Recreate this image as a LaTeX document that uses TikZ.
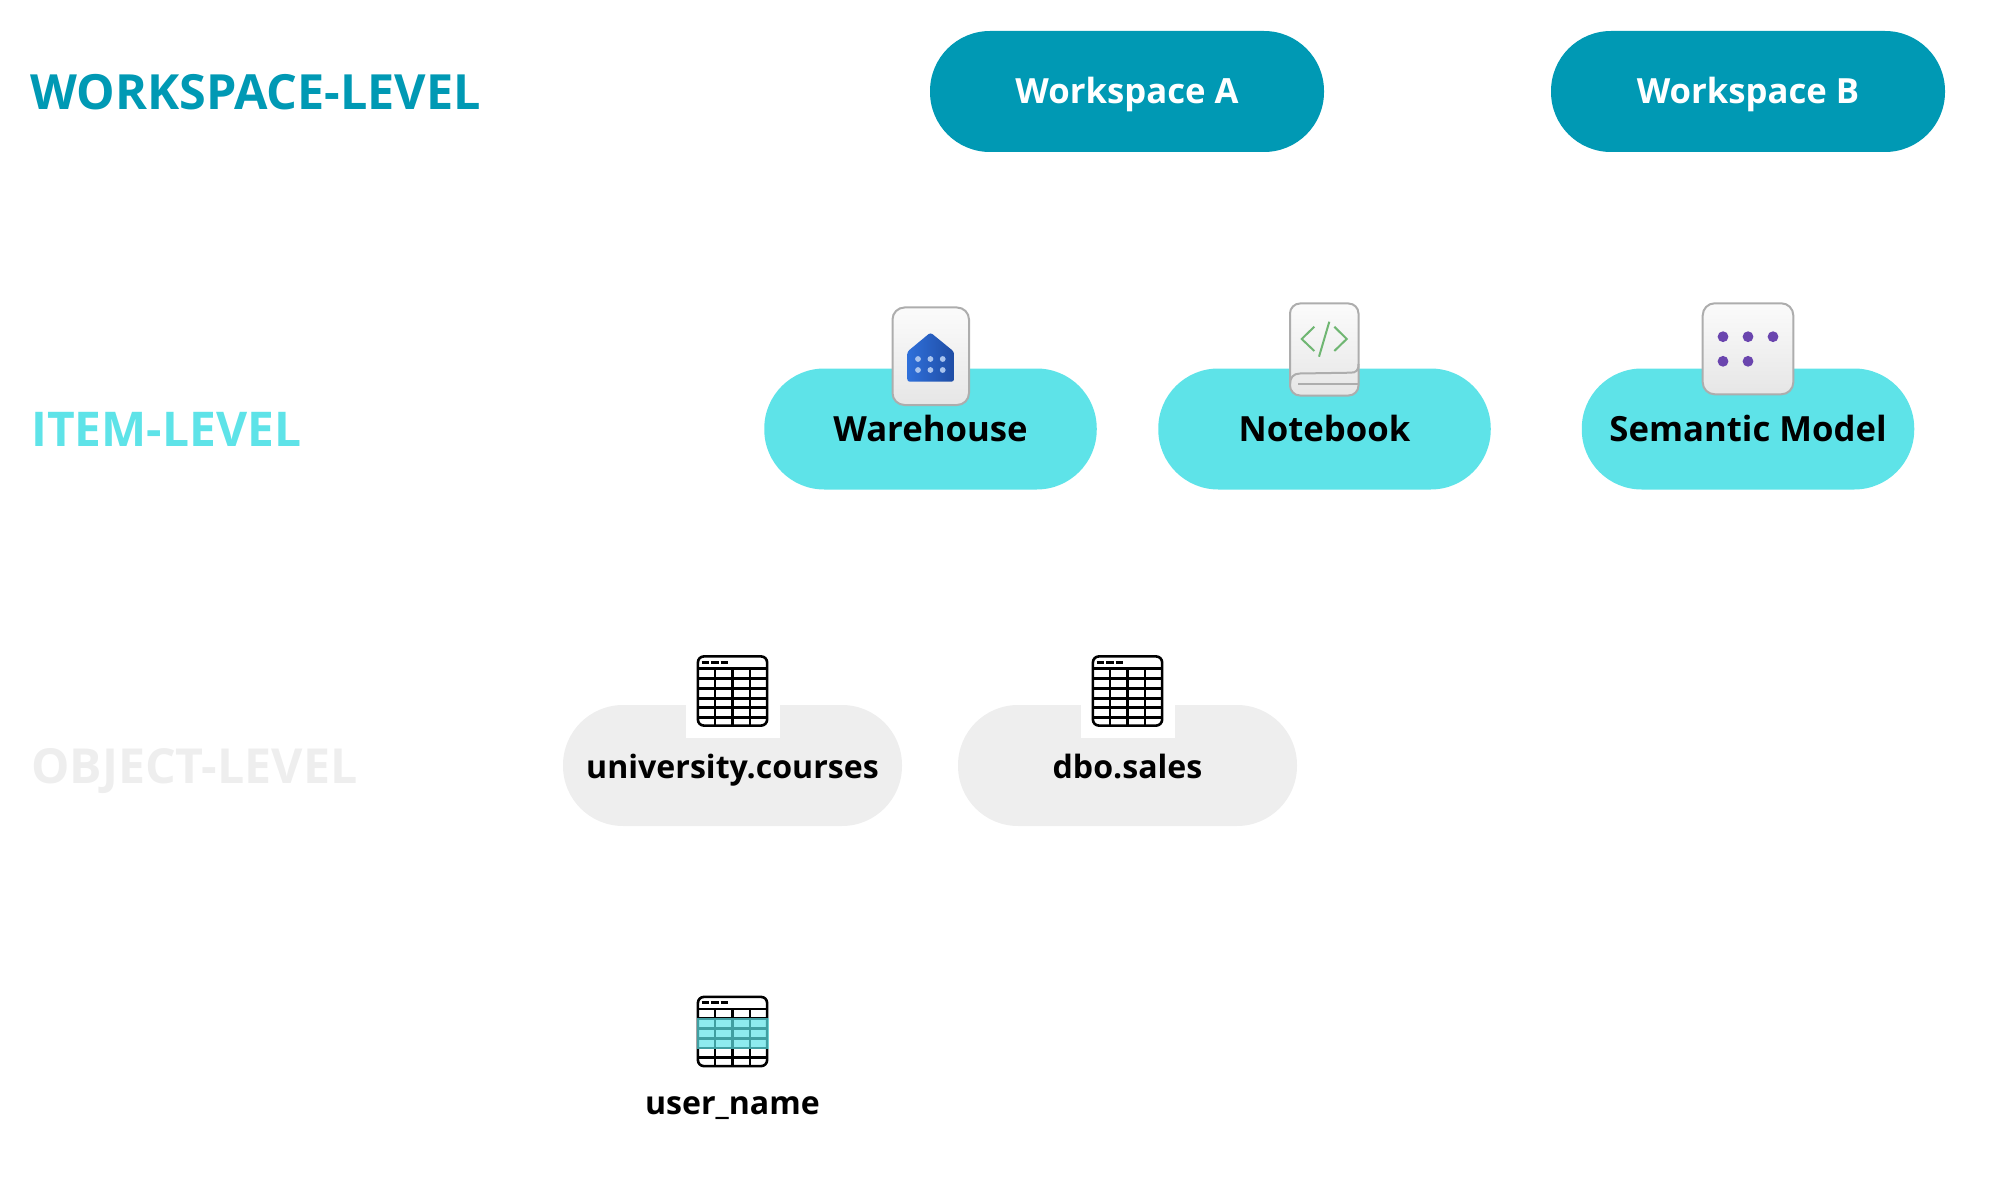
\documentclass[tikz,border=0pt]{standalone}
\usepackage{fontspec}
\setmainfont{Open Sans}
\usetikzlibrary{shadings}
\definecolor{wsblue}{HTML}{0099B4}
\definecolor{itemcyan}{HTML}{5EE3E8}
\definecolor{objgrey}{HTML}{EEEEEE}
\definecolor{iconedge}{HTML}{ADADAD}
\definecolor{iconhi}{HTML}{FBFBFB}
\definecolor{iconlo}{HTML}{E6E6E6}
\definecolor{purpledot}{HTML}{6A45AE}
\definecolor{codegreen}{HTML}{6FB672}
\definecolor{houseA}{HTML}{2F70DA}
\definecolor{houseB}{HTML}{1F4DA5}
\definecolor{housedot}{HTML}{A9C4EE}
\tikzset{
  x=1pt,y=-1pt,
  pill/.style={minimum height=121pt,rounded corners=60pt,inner sep=0pt,text height=25pt,text depth=0pt,font=\fontsize{34.7}{40}\selectfont\bfseries,text=black},
  wspill/.style={pill,fill=wsblue,minimum width=394pt,text=white},
  itempill/.style={pill,fill=itemcyan,minimum width=332.5pt},
  objpill/.style={pill,fill=objgrey,minimum width=339pt,font=\fontsize{32.1}{40}\selectfont\bfseries},
  levellabel/.style={anchor=base west,inner sep=0pt,font=\fontsize{48.5}{56}\selectfont\bfseries},
  sublabel/.style={levellabel,font=\fontsize{47.9}{56}\selectfont\bfseries},
  objlabel/.style={levellabel,font=\fontsize{48.3}{56}\selectfont\bfseries},
  plainlabel/.style={inner sep=0pt,text height=25pt,text depth=0pt,font=\fontsize{32.1}{40}\selectfont\bfseries,text=black},
  iconbox/.style={draw=iconedge,line width=2pt,top color=iconhi,bottom color=iconlo,rounded corners=12pt},
  gridline/.style={line width=2.6pt,black},
  tableicon/.pic={
    \draw[gridline] (-17.7,-22.5) -- (-17.7,34.6) (0,-22.5) -- (0,34.6) (17.6,-22.5) -- (17.6,34.6);
    \draw[gridline] (-34.6,-22.5) -- (34.6,-22.5) (-34.6,-12.8) -- (34.6,-12.8) (-34.6,-2.8) -- (34.6,-2.8)
      (-34.6,7.2) -- (34.6,7.2) (-34.6,16.5) -- (34.6,16.5) (-34.6,26.2) -- (34.6,26.2);
    \draw[gridline,line width=2.8pt] (-31,-28.8) -- (-23.5,-28.8) (-21.5,-28.8) -- (-14,-28.8) (-12,-28.8) -- (-4.5,-28.8);
    \draw[gridline,rounded corners=6pt] (-34.6,-34.6) rectangle (34.6,34.6);
  }
}
\begin{document}
\begin{tikzpicture}
\useasboundingbox (0,0) rectangle (2000,1198);
% level labels
\node[levellabel,text=wsblue] (lvlW) at (30,110) {WORKSPACE-LEVEL};
\node[sublabel,text=itemcyan] (lvlI) at (31,446) {ITEM-LEVEL};
\node[objlabel,text=objgrey] (lvlO) at (31,783) {OBJECT-LEVEL};
% workspace pills
\node[wspill] (wsA) at (1127,91.5) {Workspace A};
\node[wspill] (wsB) at (1748,91.5) {Workspace B};
% item pills
\node[itempill] (wh) at (930.5,429) {Warehouse};
\node[itempill] (nb) at (1324.5,429) {Notebook};
\node[itempill] (sm) at (1748,429) {Semantic Model};
% object pills
\node[objpill] (uc) at (732.5,765.5) {university.courses};
\node[objpill] (ds) at (1127.5,765.5) {dbo.sales};
\fill[white] (685.7,700) rectangle (780,737.7);
\fill[white] (1080.7,700) rectangle (1175,737.7);
\node[plainlabel] (un) at (732.5,1101.7) {user\_name};
% warehouse icon
\path[iconbox] (892.5,307.5) rectangle (969,405);
\shade[left color=houseA,right color=houseB,rounded corners=2.5pt]
  (907.3,381.7) -- (907.3,351.7) -- (930.5,332.5) -- (954,351.7) -- (954,381.7) -- cycle;
\foreach \px in {918,930.4,942.7}\foreach \py in {359,370}\fill[housedot] (\px,\py) circle (2.9pt);
% notebook icon
\path[iconbox,rounded corners=10pt] (1290,303.5) rectangle (1358.5,395.5);
\draw[iconedge,line width=2pt] (1358.5,364) .. controls (1358.5,371) and (1356,372.7) .. (1350,372.7)
  -- (1300,373.5) .. controls (1293,373.5) and (1290,378) .. (1290,384);
\draw[iconedge,line width=2pt] (1298,384.3) -- (1358,384.3);
\draw[codegreen,line width=2pt] (1314.3,326.7) -- (1301.7,339) -- (1314.3,351)
  (1334.3,326.7) -- (1346.7,339) -- (1334.3,351) (1329.3,321.7) -- (1319,356.7);
% semantic model icon
\path[iconbox] (1702.7,303.3) rectangle (1793.3,394.3);
\foreach \px/\py in {1723/336.7,1748/336.7,1773/336.7,1723/361.3,1748/361.3}\fill[purpledot] (\px,\py) circle (5.4pt);
% tables
\pic at (732.5,691) {tableicon};
\pic at (1127.5,691) {tableicon};
\pic at (732.5,1031.5) {tableicon};
\fill[itemcyan,opacity=.7] (696.5,1018) rectangle (768.5,1048.7);
\end{tikzpicture}
\end{document}
